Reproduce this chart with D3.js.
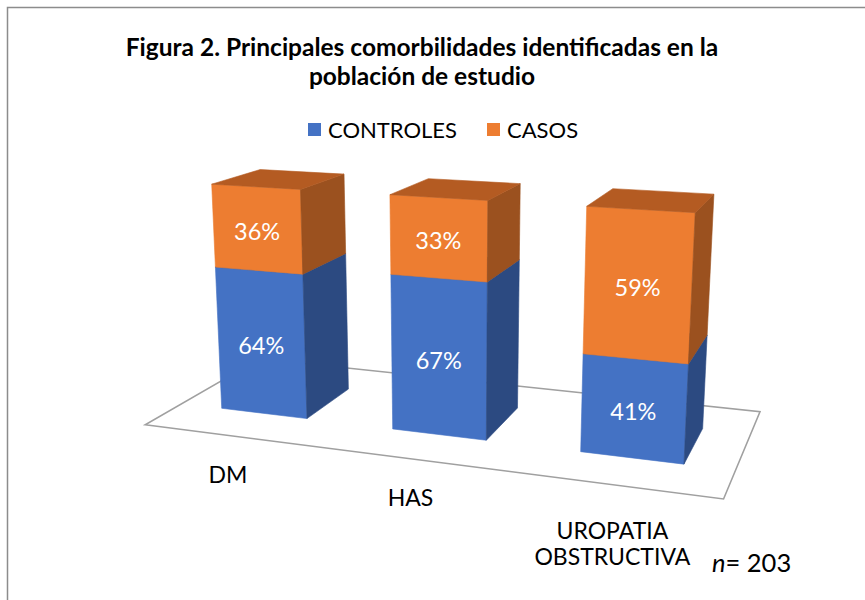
<!DOCTYPE html>
<meta charset="utf-8">

<style>
  body { margin: 0; background: #fff; }
  text { font-family: Lato, "Noto Sans", sans-serif; }
  .floor { fill: none; stroke: #a0a0a0; stroke-width: 1.6px; }
  .frame { fill: none; stroke: #8c8c8c; stroke-width: 1.5px; }
</style>

<script src="https://cdn.jsdelivr.net/npm/d3@7"></script>

<div id="chart"></div>

<script>

// data
var categories = ["DM", "HAS", "UROPATIA OBSTRUCTIVA"];
var categoryLines = [["DM"], ["HAS"], ["UROPATIA", "OBSTRUCTIVA"]];
var series = ["CONTROLES", "CASOS"];
var controles = [64, 67, 41];
var casos = [36, 33, 59];
var sampleSize = 203;

var colors = {
  CONTROLES: { front: "#4472c4", side: "#2c4a81", top: "#3a62a9" },
  CASOS:     { front: "#ed7d31", side: "#9b511f", top: "#b45b22" }
};

var width = 865, height = 600;

var svg = d3.select("#chart")
  .append("svg")
    .attr("width", width)
    .attr("height", height);

// chart frame
svg.append("rect")
  .attr("class", "frame")
  .attr("x", 7.5)
  .attr("y", 7.5)
  .attr("width", width)
  .attr("height", height);

// title
svg.append("text")
  .attr("x", 422)
  .attr("y", 56)
  .attr("text-anchor", "middle")
  .style("font-size", "24.5px")
  .style("font-weight", "bold")
  .selectAll("tspan")
  .data(["Figura 2. Principales comorbilidades identificadas en la", "población de estudio"])
  .enter()
  .append("tspan")
    .attr("x", 422)
    .attr("dy", function(d, i) { return i === 0 ? 0 : 29; })
    .text(function(d) { return d; });

// legend
var legend = svg.append("g").attr("transform", "translate(308,123)");
var legendX = [0, 179];
legend.selectAll("rect")
  .data(series)
  .enter()
  .append("rect")
    .attr("x", function(d, i) { return legendX[i]; })
    .attr("y", 0)
    .attr("width", 13)
    .attr("height", 13)
    .style("fill", function(d) { return colors[d].front; });
legend.selectAll("text")
  .data(series)
  .enter()
  .append("text")
    .attr("x", function(d, i) { return legendX[i] + 20; })
    .attr("y", 14.5)
    .style("font-size", "22px")
    .style("fill", "#000")
    .text(function(d) { return d; });

// world scales (category axis, value axis)
var x = d3.scaleBand()
  .domain(categories)
  .range([0, 3])
  .paddingInner(0.49)
  .paddingOuter(0.245);
var y = d3.scaleLinear()
  .domain([0, 100])
  .range([0, 1]);
var depth = x.bandwidth();
var floorDepth = depth * 2.38;
var zFront = (floorDepth - depth) / 2;

// perspective camera: every world axis runs to its own vanishing point
var origin = [145.2, 424.8];
var vp = { x: [-3387, -28], y: [454, 5600], z: [948, -38] };
var k = { x: -0.0469, y: -0.0429, z: 0.1372 };

function project(X, Y, Z) {
  var a = k.x * X, b = k.y * Y, c = k.z * Z;
  var w = 1 + a + b + c;
  return [
    (origin[0] + a * vp.x[0] + b * vp.y[0] + c * vp.z[0]) / w,
    (origin[1] + a * vp.x[1] + b * vp.y[1] + c * vp.z[1]) / w
  ];
}

var poly = d3.line();
function face(pts) {
  return poly(pts.map(function(p) { return project(p[0], p[1], p[2]); })) + "Z";
}

// floor
var xr = x.range();
svg.append("path")
  .attr("class", "floor")
  .attr("d", face([[xr[0], 0, 0], [xr[1], 0, 0], [xr[1], 0, floorDepth], [xr[0], 0, floorDepth]]));

// stacked data
var rows = categories.map(function(c, i) {
  return { cat: c, CONTROLES: controles[i], CASOS: casos[i] };
});
var stacked = d3.stack().keys(series)(rows);

var segments = [];
categories.forEach(function(c, i) {
  stacked.forEach(function(layer) {
    segments.push({ key: layer.key, cat: c, y0: layer[i][0], y1: layer[i][1], value: layer[i].data[layer.key] });
  });
});

var bars = svg.selectAll("g.seg")
  .data(segments)
  .enter()
  .append("g")
    .attr("class", "seg");

function corners(d) {
  var x0 = x(d.cat), x1 = x0 + x.bandwidth();
  var z0 = zFront, z1 = zFront + depth;
  var b = y(d.y0), t = y(d.y1);
  return {
    front: [[x0, b, z0], [x1, b, z0], [x1, t, z0], [x0, t, z0]],
    side:  [[x1, b, z0], [x1, b, z1], [x1, t, z1], [x1, t, z0]],
    top:   [[x0, t, z0], [x1, t, z0], [x1, t, z1], [x0, t, z1]]
  };
}

["front", "side", "top"].forEach(function(f) {
  bars.append("path")
    .attr("d", function(d) { return face(corners(d)[f]); })
    .style("fill", function(d) { return colors[d.key][f]; })
    .style("stroke", function(d) { return colors[d.key][f]; })
    .style("stroke-width", 0.6);
});

// data labels on the front faces
svg.selectAll("text.val")
  .data(segments)
  .enter()
  .append("text")
    .attr("class", "val")
    .attr("transform", function(d) {
      var p = project(x(d.cat) + x.bandwidth() / 2, y((d.y0 + d.y1) / 2), zFront);
      return "translate(" + p[0] + "," + p[1] + ")";
    })
    .attr("dy", "0.47em")
    .attr("text-anchor", "middle")
    .style("font-size", "23.5px")
    .style("fill", "#fff")
    .text(function(d) { return d.value + "%"; });

// category labels under the front edge of the floor
svg.selectAll("text.cat")
  .data(categories)
  .enter()
  .append("text")
    .attr("class", "cat")
    .attr("text-anchor", "middle")
    .style("font-size", "23px")
    .style("fill", "#000")
    .each(function(c, i) {
      var p = project(x(c) + x.bandwidth() / 2, 0, 0);
      var lines = categoryLines[i];
      d3.select(this).selectAll("tspan")
        .data(lines)
        .enter()
        .append("tspan")
          .attr("x", p[0] - 2)
          .attr("y", function(d, j) { return p[1] + 47 + (lines.length - 1) * 7 + j * 26; })
          .text(function(d) { return d; });
    });

// sample size note
var note = svg.append("text")
  .attr("x", 712)
  .attr("y", 572)
  .style("font-size", "25.5px")
  .style("fill", "#000");
note.append("tspan").style("font-style", "italic").text("n");
note.append("tspan").text("= " + sampleSize);

</script>
